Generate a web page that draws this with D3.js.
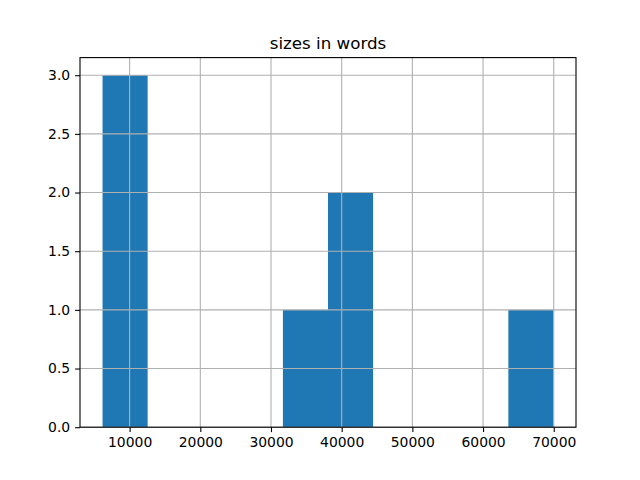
<!DOCTYPE html>
<html>
<head>
<meta charset="utf-8">
<script src="https://cdn.jsdelivr.net/npm/d3@7"></script>
<style>
  body { margin: 0; background: #fff; }
  text { font-family: "DejaVu Sans", sans-serif; }
</style>
</head>
<body>
<div id="chart"></div>
<script>
'use strict'

// histogram of document sizes (10 bins between min and max)
const sizeMin = 6170
const sizeMax = 69960
const binCounts = [3, 0, 0, 0, 1, 2, 0, 0, 0, 1]
const xTicks = [10000, 20000, 30000, 40000, 50000, 60000, 70000]
const yTicks = [0, 0.5, 1.0, 1.5, 2.0, 2.5, 3.0]
const title = 'sizes in words'

const width = 640,
  height = 480,
  plotLeft = 80,
  plotRight = 576,
  plotTop = 57.6,
  plotBottom = 427.2

const binWidth = (sizeMax - sizeMin) / binCounts.length
const bins = binCounts.map((c, i) => ({
  x0: sizeMin + i * binWidth,
  x1: sizeMin + (i + 1) * binWidth,
  count: c
}))

const pad = (sizeMax - sizeMin) * 0.05
const x = d3.scaleLinear()
  .domain([sizeMin - pad, sizeMax + pad])
  .range([plotLeft, plotRight])

const yMax = d3.max(binCounts) * 1.05
const y = d3.scaleLinear()
  .domain([0, yMax])
  .range([plotBottom, plotTop])

let svg = d3.select('#chart')
  .append('svg')
  .attr('width', width)
  .attr('height', height)

// bars
svg.selectAll('rect.bar')
  .data(bins.filter(b => b.count > 0))
  .enter()
  .append('rect')
  .attr('class', 'bar')
  .attr('fill', '#1f77b4')
  .attr('x', d => x(d.x0))
  .attr('width', d => x(d.x1) - x(d.x0))
  .attr('y', d => y(d.count))
  .attr('height', d => y(0) - y(d.count))

// grid on top of bars
svg.append('g')
  .selectAll('line')
  .data(xTicks)
  .enter()
  .append('line')
  .attr('x1', d => x(d)).attr('x2', d => x(d))
  .attr('y1', plotTop).attr('y2', plotBottom)
  .attr('stroke', '#b0b0b0')
  .attr('stroke-width', 1.1)

svg.append('g')
  .selectAll('line')
  .data(yTicks)
  .enter()
  .append('line')
  .attr('x1', plotLeft).attr('x2', plotRight)
  .attr('y1', d => y(d)).attr('y2', d => y(d))
  .attr('stroke', '#b0b0b0')
  .attr('stroke-width', 1.1)

// axes
const axisBottom = d3.axisBottom(x)
  .tickValues(xTicks)
  .tickFormat(d3.format('d'))
  .tickSize(4.9)
  .tickPadding(4.9)
const axisLeft = d3.axisLeft(y)
  .tickValues(yTicks)
  .tickFormat(d3.format('.1f'))
  .tickSize(4.9)
  .tickPadding(4.9)

let gx = svg.append('g')
  .attr('transform', `translate(0, ${plotBottom})`)
  .call(axisBottom)
let gy = svg.append('g')
  .attr('transform', `translate(${plotLeft}, 0)`)
  .call(axisLeft)

for (const g of [gx, gy]) {
  g.select('.domain').remove()
  g.selectAll('.tick line').attr('stroke', '#000').attr('stroke-width', 1.1)
  g.selectAll('.tick text')
    .attr('fill', '#000')
    .style('font-size', '13.9px')
    .style('font-family', '"DejaVu Sans", sans-serif')
}

// frame
svg.append('rect')
  .attr('x', plotLeft)
  .attr('y', plotTop)
  .attr('width', plotRight - plotLeft)
  .attr('height', plotBottom - plotTop)
  .attr('fill', 'none')
  .attr('stroke', '#000')
  .attr('stroke-width', 1.1)

svg.append('text')
  .attr('x', (plotLeft + plotRight) / 2)
  .attr('y', plotTop - 8.3)
  .attr('text-anchor', 'middle')
  .style('font-size', '16.7px')
  .text(title)
</script>
</body>
</html>
